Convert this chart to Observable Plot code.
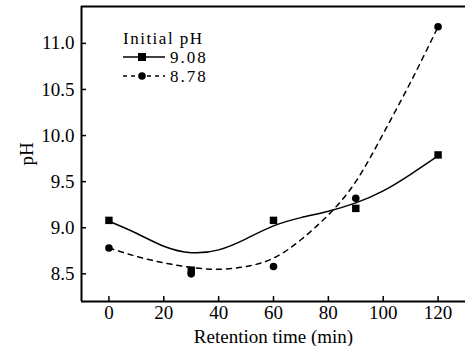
<!DOCTYPE html>
<html>
<head>
<meta charset="utf-8">
<script src="https://cdn.jsdelivr.net/npm/d3@7"></script>
<script src="https://cdn.jsdelivr.net/npm/@observablehq/plot@0.6"></script>
<style>
  html, body { margin: 0; padding: 0; background: #fff; }
  #wrap { position: relative; width: 465px; height: 346px; }
  #legend { position: absolute; left: 0; top: 0; }
  svg text { font-family: "Liberation Serif", "Times New Roman", serif !important; font-variant-numeric: normal !important; }
</style>
</head>
<body>
<div id="wrap"></div>
<script>
// Measured points
const times = [0, 30, 60, 90, 120];
const ph908 = [9.08, 8.54, 9.08, 9.21, 9.79];
const ph878 = [8.78, 8.50, 8.58, 9.32, 11.18];
// Fitted curves
const fitTimes = [0, 10, 20, 30, 40, 50, 60, 70, 80, 90, 100, 110, 120];
const fit908 = [9.07, 8.94, 8.80, 8.73, 8.76, 8.88, 9.02, 9.11, 9.18, 9.27, 9.40, 9.58, 9.78];
const fit878 = [8.78, 8.69, 8.62, 8.57, 8.55, 8.58, 8.67, 8.87, 9.14, 9.50, 10.02, 10.58, 11.18];
const xTicks = [0, 20, 40, 60, 80, 100, 120];
const yTicks = [8.5, 9.0, 9.5, 10.0, 10.5, 11.0];
const seriesNames = ["9.08", "8.78"];
const legendTitle = "Initial pH";

const pts908 = times.map((t, i) => ({t, ph: ph908[i]}));
const pts878 = times.map((t, i) => ({t, ph: ph878[i]}));
const c908 = fitTimes.map((t, i) => ({t, ph: fit908[i]}));
const c878 = fitTimes.map((t, i) => ({t, ph: fit878[i]}));

const W = 465, H = 346, mL = 81, mR = 0, mT = 6, mB = 45;
const xDom = [-10, 130], yDom = [8.2, 11.4];
const FF = '"Liberation Serif", "Times New Roman", serif';

const chart = Plot.plot({
  width: W, height: H,
  marginLeft: mL, marginRight: mR, marginTop: mT, marginBottom: mB,
  style: {fontFamily: FF, fontSize: "19px", background: "white", color: "black"},
  x: {domain: xDom},
  y: {domain: yDom},
  marks: [
    Plot.axisX(xTicks, {tickSize: 0, tickPadding: 4, tickFormat: d => String(d), label: "Retention time (min)", labelAnchor: "center", labelOffset: 41, labelArrow: "none", fontSize: 19, fontFamily: FF, letterSpacing: 1.6}),
    Plot.axisY(yTicks, {tickSize: 0, tickPadding: 7, tickFormat: d => d.toFixed(1), label: "pH", labelAnchor: "center", labelOffset: 62, labelArrow: "none", fontSize: 19, fontFamily: FF, letterSpacing: 1.6}),
    Plot.tickX(xTicks, {x: d => d, insetTop: H - mT - mB - 5, stroke: "black", strokeWidth: 1.5}),
    Plot.tickY(yTicks, {y: d => d, insetRight: W - mL - mR - 5, stroke: "black", strokeWidth: 1.5}),
    Plot.ruleX([xDom[0]], {stroke: "black", strokeWidth: 2}),
    Plot.ruleY([yDom[0]], {stroke: "black", strokeWidth: 2}),
    Plot.ruleY([yDom[1]], {stroke: "black", strokeWidth: 2}),
    Plot.line(c908, {x: "t", y: "ph", curve: "natural", stroke: "black", strokeWidth: 1.5}),
    Plot.line(c878, {x: "t", y: "ph", curve: "natural", stroke: "black", strokeWidth: 1.5, strokeDasharray: "5,5"}),
    Plot.dot(pts908, {x: "t", y: "ph", symbol: "square", r: 4.2, fill: "black", stroke: "none"}),
    Plot.dot(pts878, {x: "t", y: "ph", symbol: "circle", r: 3.8, fill: "black", stroke: "none"})
  ]
});
document.getElementById("wrap").appendChild(chart);

// Legend overlay
const ns = "http://www.w3.org/2000/svg";
const leg = document.createElementNS(ns, "svg");
leg.setAttribute("id", "legend");
leg.setAttribute("width", W);
leg.setAttribute("height", 100);
const lg = d3.select(leg);
lg.append("text").attr("x", 123).attr("y", 44).attr("font-size", 17).attr("letter-spacing", 1.5).attr("fill", "black").text(legendTitle);
const rows = [{y: 57, dash: null, sym: "square"}, {y: 76, dash: "4,4", sym: "circle"}];
rows.forEach((r, i) => {
  const line = lg.append("line").attr("x1", 123).attr("x2", 165).attr("y1", r.y).attr("y2", r.y).attr("stroke", "black").attr("stroke-width", 1.5);
  if (r.dash) line.attr("stroke-dasharray", r.dash);
  if (r.sym === "square") lg.append("rect").attr("x", 142 - 4).attr("y", r.y - 4).attr("width", 8).attr("height", 8).attr("fill", "black");
  else lg.append("circle").attr("cx", 142).attr("cy", r.y).attr("r", 3.8).attr("fill", "black");
  lg.append("text").attr("x", 170).attr("y", r.y + 6).attr("font-size", 17).attr("letter-spacing", 2).attr("fill", "black").text(seriesNames[i]);
});
document.getElementById("wrap").appendChild(leg);
</script>
</body>
</html>
